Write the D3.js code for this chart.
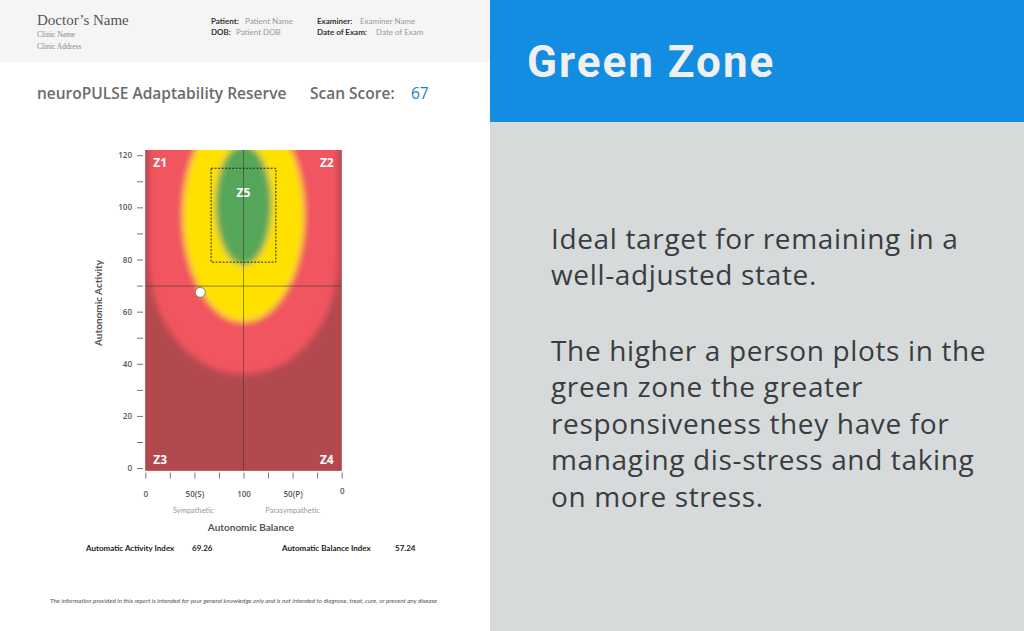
<!DOCTYPE html>
<html><head><meta charset="utf-8">
<script src="https://cdn.jsdelivr.net/npm/d3@7"></script>
<style>body{margin:0;overflow:hidden;background:#fff}</style>
</head><body><script>
const W = 1024, H = 631;

// ---- data ----
const yTickValues = [0,10,20,30,40,50,60,70,80,90,100,110,120];
const yLabelValues = [0,20,40,60,80,100,120];
const xTickValues = [0,25,50,75,100,125,150,175,200];
const xTickLabels = ["0","","50(S)","","100","","50(P)","","0"];
const zoneNames = ["Z1","Z2","Z3","Z4","Z5"];
const zoneColors = ["#b24a4f","#f1555f","#ffe100","#56a65a"];
const pinkZone = [100, 80, 96, 44, 130];     // cx, cy, rx, ry, top
const yellowZone = [100, 97, 62, 41];        // cx, cy, rx, ry
const greenZone = [100, 101, 28.5, 23];      // cx, cy, rx, ry
const targetBox = [67, 133, 79, 115];        // x0, x1, y0, y1
const crosshair = [100, 69.8];
const point = [56, 67.4];
const scanScore = 67;
const indexLabels = ["Automatic Activity Index", "Automatic Balance Index"];
const indexValues = [69.26, 57.24];
const bodyParas = [
  ["Ideal target for remaining in a", "well-adjusted state."],
  ["The higher a person plots in the", "green zone the greater", "responsiveness they have for", "managing dis-stress and taking", "on more stress."]
];

const svg = d3.select("body").append("svg").attr("width", W).attr("height", H);

// ---- panels ----
svg.append("rect").attr("x",0).attr("y",0).attr("width",490).attr("height",H).attr("fill","#fff");
svg.append("rect").attr("x",0).attr("y",0).attr("width",490).attr("height",62).attr("fill","#f5f5f5");
svg.append("rect").attr("x",490).attr("y",0).attr("width",W-490).attr("height",H).attr("fill","#d6dadb");
svg.append("rect").attr("x",490).attr("y",0).attr("width",W-490).attr("height",122).attr("fill","#128de1");

// ---- header ----
const serif = "'Liberation Serif', 'DejaVu Serif', serif";
const sans = "Lato, 'Open Sans', sans-serif";
svg.append("text").attr("x",37).attr("y",25).attr("font-family",serif).attr("font-size",15).attr("fill","#555").text("Doctor\u2019s Name");
svg.append("text").attr("x",37).attr("y",37).attr("font-family",serif).attr("font-size",7.5).attr("fill","#888").text("Clinic Name");
svg.append("text").attr("x",37).attr("y",48.5).attr("font-family",serif).attr("font-size",7.5).attr("fill","#888").text("Clinic Address");
const hdr = [["Patient:",211,23.5,"Patient Name",245],["DOB:",211,35,"Patient DOB",236],
             ["Examiner:",317,23.5,"Examiner Name",360],["Date of Exam:",317,35,"Date of Exam",376]];
hdr.forEach(h=>{
  svg.append("text").attr("x",h[1]).attr("y",h[2]).attr("font-family",sans).attr("font-weight",700).attr("font-size",8).attr("fill","#333").text(h[0]);
  svg.append("text").attr("x",h[4]).attr("y",h[2]).attr("font-family",sans).attr("font-size",8).attr("fill","#999").text(h[3]);
});

// ---- title ----
svg.append("text").attr("x",37).attr("y",99).attr("font-family","'Open Sans', sans-serif").attr("font-weight",600).attr("font-size",15.5).attr("fill","#6b6b6b").text("neuroPULSE Adaptability Reserve");
svg.append("text").attr("x",310).attr("y",99).attr("font-family","'Open Sans', sans-serif").attr("font-weight",600).attr("font-size",15.5).attr("fill","#6b6b6b").text("Scan Score:");
svg.append("text").attr("x",411).attr("y",99).attr("font-family","'Open Sans', sans-serif").attr("font-size",15.5).attr("fill","#1f7fc4").text(scanScore);

// ---- scales ----
const x = d3.scaleLinear().domain([0,200]).range([145.3,341.7]);
const y = d3.scaleLinear().domain([-1,122]).range([470.7,150]);

const defs = svg.append("defs");
defs.append("clipPath").attr("id","plotclip").append("rect")
  .attr("x",x(0)).attr("y",y(122)).attr("width",x(200)-x(0)).attr("height",y(-1)-y(122));
const f = defs.append("filter").attr("id","soft").attr("filterUnits","userSpaceOnUse")
  .attr("x",0).attr("y",0).attr("width",600).attr("height",631);
f.append("feGaussianBlur").attr("stdDeviation",3.2);

const plot = svg.append("g").attr("clip-path","url(#plotclip)");
plot.append("rect").attr("x",x(0)).attr("y",y(122)).attr("width",x(200)-x(0)).attr("height",y(-1)-y(122)).attr("fill",zoneColors[0]);
const zg = plot.append("g").attr("filter","url(#soft)");
zg.append("rect").attr("x",x(0)-20).attr("y",y(122)-20).attr("width",x(200)-x(0)+40).attr("height",y(-1)-y(122)+40).attr("fill",zoneColors[0]);
{
  const [cx,cy,rx,ry,top] = pinkZone;
  const rxp = x(cx+rx)-x(cx), ryp = y(cy-ry)-y(cy);
  const p = d3.path();
  p.moveTo(x(cx-rx), y(top));
  p.lineTo(x(cx-rx), y(cy));
  const steps = 60;
  for (let i=1;i<=steps;i++){
    const a = Math.PI - Math.PI*i/steps;
    p.lineTo(x(cx)+rxp*Math.cos(a), y(cy)+ryp*Math.sin(a));
  }
  p.lineTo(x(cx+rx), y(top));
  p.closePath();
  zg.append("path").attr("d",p.toString()).attr("fill",zoneColors[1]);
}
[[yellowZone,zoneColors[2]],[greenZone,zoneColors[3]]].forEach(([z,c])=>{
  zg.append("ellipse").attr("cx",x(z[0])).attr("cy",y(z[1]))
    .attr("rx",x(z[0]+z[2])-x(z[0])).attr("ry",y(z[1]-z[3])-y(z[1])).attr("fill",c);
});

// crosshair
plot.append("line").attr("x1",x(crosshair[0])).attr("x2",x(crosshair[0])).attr("y1",y(122)).attr("y2",y(-1))
  .attr("stroke","#333").attr("stroke-opacity",0.55).attr("stroke-width",1);
plot.append("line").attr("x1",x(0)).attr("x2",x(200)).attr("y1",y(crosshair[1])).attr("y2",y(crosshair[1]))
  .attr("stroke","#333").attr("stroke-opacity",0.55).attr("stroke-width",1);

// target box
plot.append("rect").attr("x",x(targetBox[0])).attr("y",y(targetBox[3]))
  .attr("width",x(targetBox[1])-x(targetBox[0])).attr("height",y(targetBox[2])-y(targetBox[3]))
  .attr("fill","none").attr("stroke","#222").attr("stroke-width",1).attr("stroke-dasharray","2,1.5");

// zone labels
const zl = [[0,122,"start",8,16.5],[200,122,"end",-8,16.5],[0,-1,"start",8,-6.5],[200,-1,"end",-8,-6.5],[100,104,"middle",0,0]];
zl.forEach((d,i)=>{
  plot.append("text").attr("x",x(d[0])+d[3]).attr("y",y(d[1])+d[4]).attr("text-anchor",d[2])
    .attr("font-family","'Open Sans', sans-serif").attr("font-weight",700).attr("font-size",12)
    .attr("fill","#fff").text(zoneNames[i]);
});

// point
svg.append("circle").attr("cx",x(point[0])).attr("cy",y(point[1])).attr("r",5)
  .attr("fill","#fff").attr("stroke","#666").attr("stroke-width",0.8);

// ---- axes ----
const yAxis = d3.axisLeft(y).tickValues(yTickValues).tickSize(6).tickPadding(5)
  .tickFormat(d => yLabelValues.includes(d) ? d : "");
const gy = svg.append("g").attr("transform","translate(143,0)").call(yAxis);
gy.select(".domain").remove();
gy.selectAll("line").attr("stroke","#777");
gy.selectAll("text").attr("font-family","'Open Sans', sans-serif").attr("font-weight",600).attr("font-size",8).attr("fill","#555");

const xAxis = d3.axisBottom(x).tickValues(xTickValues).tickSize(6).tickPadding(13)
  .tickFormat((d,i) => xTickLabels[i]);
const gx = svg.append("g").attr("transform","translate(0,472.5)").call(xAxis);
gx.select(".domain").remove();
gx.selectAll("line").attr("stroke","#777");
gx.selectAll("text").attr("font-family","'Open Sans', sans-serif").attr("font-weight",600).attr("font-size",8).attr("fill","#555");
gx.selectAll("text").filter((d,i)=>i===8).attr("y",16);

svg.append("text").attr("x",x(50)-1).attr("y",513).attr("text-anchor","middle").attr("font-family",sans).attr("font-size",7.5).attr("fill","#999").text("Sympathetic");
svg.append("text").attr("x",x(150)).attr("y",513).attr("text-anchor","middle").attr("font-family",sans).attr("font-size",7.5).attr("fill","#999").text("Parasympathetic");
svg.append("text").attr("x",251).attr("y",531).attr("text-anchor","middle").attr("font-family",sans).attr("font-weight",700).attr("font-size",10).attr("fill","#555").text("Autonomic Balance");
svg.append("text").attr("transform","translate(101.5,303) rotate(-90)").attr("text-anchor","middle").attr("font-family",sans).attr("font-weight",700).attr("font-size",10).attr("fill","#555").text("Autonomic Activity");

// indices
[[86,192],[282,395]].forEach((p,i)=>{
  svg.append("text").attr("x",p[0]).attr("y",551).attr("font-family",sans).attr("font-weight",700).attr("font-size",8).attr("fill","#222").text(indexLabels[i]);
  svg.append("text").attr("x",p[1]).attr("y",551).attr("font-family",sans).attr("font-weight",700).attr("font-size",8).attr("fill","#222").text(indexValues[i]);
});

// disclaimer
svg.append("text").attr("x",50).attr("y",603).attr("font-family",sans).attr("font-style","italic").attr("font-size",5.5).attr("fill","#555")
  .attr("textLength",387).attr("lengthAdjust","spacingAndGlyphs")
  .text("The information provided in this report is intended for your general knowledge only and is not intended to diagnose, treat, cure, or prevent any disease");

// ---- right panel ----
svg.append("text").attr("x",527).attr("y",77).attr("font-family","Roboto, sans-serif").attr("font-weight",700).attr("font-size",44).attr("letter-spacing",2).attr("fill","#f0f0f0").text("Green Zone");
const paraTop = [248.5, 360.7];
bodyParas.forEach((lines,pi)=>{
  lines.forEach((l,li)=>{
    svg.append("text").attr("x",551).attr("y",paraTop[pi]+li*36.5).attr("font-family","'Open Sans', sans-serif").attr("font-size",28).attr("letter-spacing",0.65).attr("fill","#3a3d40").text(l);
  });
});
</script></body></html>
